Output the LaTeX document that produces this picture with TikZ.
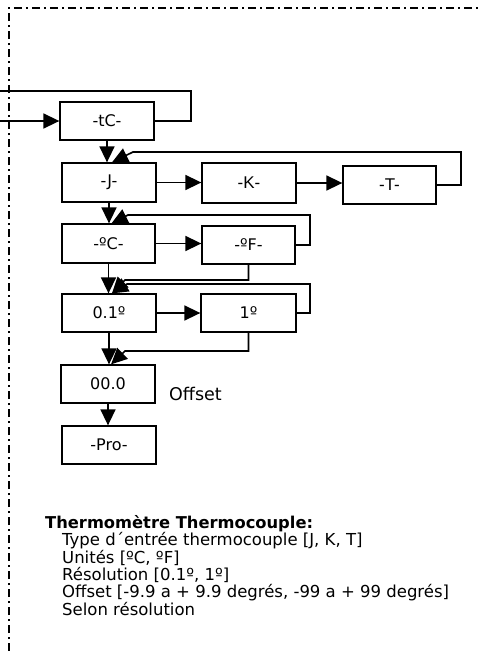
\documentclass[tikz,border=0pt]{standalone}
\usepackage{fontspec}
\setmainfont{DejaVu Sans}
\newfontfamily\arialfont{Liberation Sans}
\usetikzlibrary{arrows.meta}

\begin{document}
\begin{tikzpicture}[x=1pt,y=-1pt,
  box/.style={draw,line width=1.3pt,minimum width=94pt,minimum height=38pt,inner sep=0pt,
    font=\fontsize{16}{18}\selectfont},
  link/.style={line width=1.6pt},
  arr/.style={link,-{Triangle[length=16pt,width=15pt]}},
  notetext/.style={anchor=base west,inner sep=0pt,font=\fontsize{16.5}{19}\selectfont},
  dashframe/.style={line width=1.8pt,dash pattern=on 8pt off 4pt on 2pt off 4pt}]
  \useasboundingbox (0,0) rectangle (481,651);

  \draw[dashframe] (9,651) -- (9,8) -- (481,8);

  \node[box] (tc) at (107,121) {-tC-};
  \node[box,minimum height=39pt] (j) at (109,182.5) {-J-};
  \node[box,minimum height=40pt,font=\arialfont\fontsize{17}{19}\selectfont] (k) at (249,183) {-K-};
  \node[box,minimum width=93pt,font=\arialfont\fontsize{17}{19}\selectfont] (t) at (389.5,185) {-T-};
  \node[box,minimum width=93pt,minimum height=39pt] (degc) at (108.5,243.5) {-ºC-};
  \node[box,minimum width=93pt] (degf) at (248.5,245) {-ºF-};
  \node[box] (tenth) at (109,313) {0.1º};
  \node[box,minimum width=95pt] (one) at (248.5,313) {1º};
  \node[box] (zero) at (108,384) {00.0};
  \node[box] (pro) at (109,445) {-Pro-};

  \node[anchor=base west,inner sep=0pt,font=\fontsize{17.5}{19}\selectfont] (offlbl) at (169,400) {Offset};

  \coordinate (entry) at (0,121);
  \coordinate (loopend) at (0,91);
  \draw[arr] (entry) -- (tc.west);
  \draw[link] (tc.east) -| (191,91) -- (loopend);

  \draw[arr] (tc.south) -- (tc.south |- j.north);
  \draw[arr] (j.east) -- (j.east -| k.west);
  \draw[arr] (k.east) -- (k.east -| t.west);
  \draw[arr] (t.east) -| (461,152) -- (133,152) -- ([xshift=3pt]j.north);

  \draw[arr] (j.south) -- (j.south |- degc.north);
  \draw[arr] (degc.east) -- (degc.east -| degf.west);
  \draw[arr] (degf.east) -| (310,215) -- (128,215) -- ([xshift=3pt]degc.north);

  \draw[arr] (degc.south) -- (degc.south |- tenth.north);
  \draw[arr] (degf.south) |- (125,280) -- ([xshift=3pt]tenth.north);
  \draw[arr] (tenth.east) -- (tenth.east -| one.west);
  \draw[arr] (one.east) -| (310,284) -- (127,284) -- ([xshift=3pt]tenth.north);

  \draw[arr] (tenth.south) -- (tenth.south |- zero.north);
  \draw[arr] (one.south) |- (125,351) -- ([xshift=3pt]zero.north);
  \draw[arr] (zero.south) -- (zero.south |- pro.north);

  \node[anchor=base west,inner sep=0pt,font=\bfseries\fontsize{16.3}{18}\selectfont] (title) at (45,528)
    {Thermomètre Thermocouple:};
  \foreach \txt [count=\i] in {{Type d´entrée thermocouple [J, K, T]},{Unités [ºC, ºF]},
      {Résolution [0.1º, 1º]},{Offset [-9.9 a + 9.9 degrés, -99 a + 99 degrés]},{Selon résolution}}
    \node[notetext] (note\i) at (62,528.5+17.3*\i) {\txt};
\end{tikzpicture}
\end{document}
